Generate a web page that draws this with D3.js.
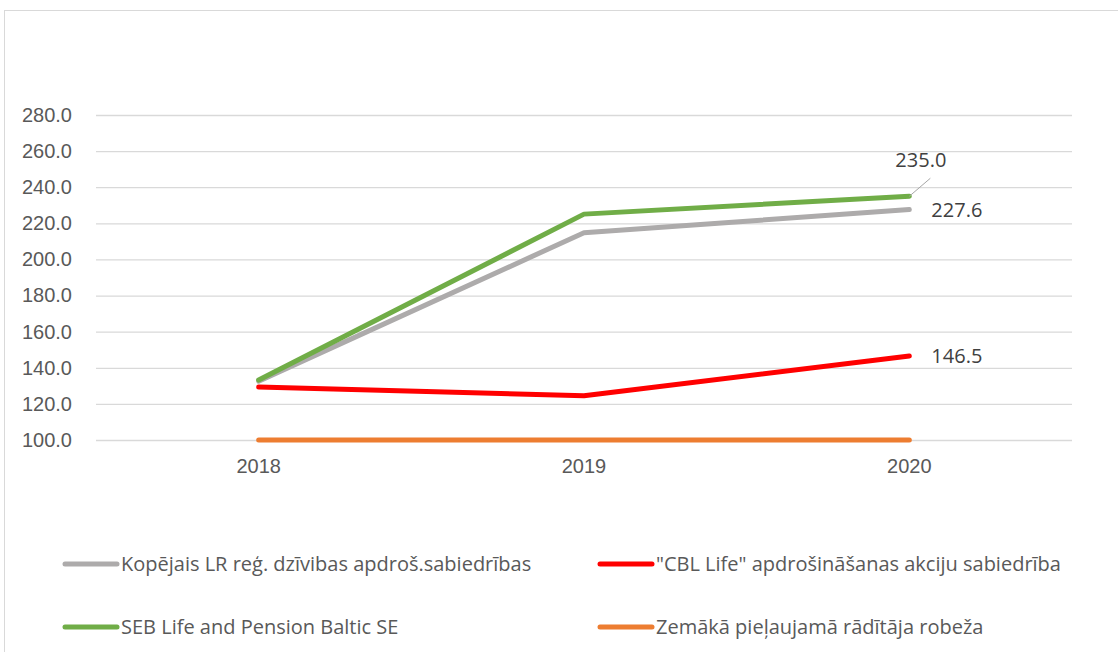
<!DOCTYPE html>
<html>
<head>
<meta charset="utf-8">
<script src="https://cdn.jsdelivr.net/npm/d3@7"></script>
<style>
  body { margin: 0; background: #fff; }
  svg { display: block; font-family: "Open Sans", Lato, sans-serif; }
</style>
</head>
<body>
<div id="chart"></div>
<script>
// Données
const years = ['2018', '2019', '2020']
const kopejais = [132.6, 214.8, 227.6]
const cblLife = [129.3, 124.5, 146.5]
const sebLife = [133.2, 225.1, 235.0]
const robeza = [100.0, 100.0, 100.0]
const yTicks = [100, 120, 140, 160, 180, 200, 220, 240, 260, 280]

const series = [
    { name: 'Kopējais LR reģ. dzīvibas apdroš.sabiedrības', values: kopejais, color: '#ADABAB' },
    { name: '"CBL Life" apdrošināšanas akciju sabiedrība', values: cblLife, color: '#FF0000' },
    { name: 'SEB Life and Pension Baltic SE', values: sebLife, color: '#70AD47' },
    { name: 'Zemākā pieļaujamā rādītāja robeža', values: robeza, color: '#ED7D31' }
]

const W = 1118, H = 652
const plot = { left: 96, right: 1072, top: 115, bottom: 440 }
const fontSize = '20px'

const svg = d3.select('#chart')
    .append('svg')
    .attr('width', W)
    .attr('height', H)

// cadre
svg.append('rect')
    .attr('x', 4.5).attr('y', 10.5)
    .attr('width', W + 10).attr('height', H + 10)
    .attr('fill', 'none')
    .attr('stroke', '#d9d9d9')

// Echelles
const x = d3.scaleBand()
    .domain(years)
    .range([plot.left, plot.right])

const y = d3.scaleLinear()
    .domain([100, 280])
    .range([plot.bottom, plot.top])

// grille + axe y
const yAxis = svg.append('g')
    .attr('transform', 'translate(' + plot.left + ',0)')
    .call(d3.axisLeft(y)
        .tickValues(yTicks)
        .tickFormat(d3.format('.1f'))
        .tickSize(-(plot.right - plot.left))
        .tickPadding(24))
yAxis.select('.domain').remove()
yAxis.selectAll('.tick line')
    .attr('stroke', '#d9d9d9')
    .attr('stroke-width', 1.3)
yAxis.selectAll('.tick text')
    .attr('fill', '#595959')
    .style('font-size', fontSize)

// axe x
const xAxis = svg.append('g')
    .attr('transform', 'translate(0,' + plot.bottom + ')')
    .call(d3.axisBottom(x).tickSize(0).tickPadding(19))
xAxis.select('.domain').remove()
xAxis.selectAll('.tick text')
    .attr('fill', '#595959')
    .style('font-size', fontSize)

// lignes
const line = d3.line()
    .x((d, i) => x(years[i]) + x.bandwidth() / 2)
    .y(d => y(d))

const drawOrder = [series[3], series[1], series[0], series[2]]
svg.append('g')
    .selectAll('path')
    .data(drawOrder)
    .enter()
    .append('path')
    .attr('d', d => line(d.values))
    .attr('fill', 'none')
    .attr('stroke', d => d.color)
    .attr('stroke-width', 5)
    .attr('stroke-linecap', 'round')
    .attr('stroke-linejoin', 'round')

// étiquettes des valeurs 2020
const last = years.length - 1
const lx = x(years[last]) + x.bandwidth() / 2

svg.append('line')
    .attr('x1', lx).attr('y1', y(sebLife[last]))
    .attr('x2', lx + 21).attr('y2', y(sebLife[last]) - 18)
    .attr('stroke', '#a6a6a6')
    .attr('stroke-width', 1)

const labels = [
    { v: sebLife[last], dx: -14, dy: -36 },
    { v: kopejais[last], dx: 22, dy: 0 },
    { v: cblLife[last], dx: 22, dy: 0 }
]
svg.append('g')
    .selectAll('text')
    .data(labels)
    .enter()
    .append('text')
    .attr('x', d => lx + d.dx)
    .attr('y', d => y(d.v) + d.dy)
    .attr('dy', '0.35em')
    .attr('fill', '#404040')
    .style('font-size', fontSize)
    .text(d => d3.format('.1f')(d.v))

// légende
const legendPos = [
    { x: 63, y: 564 },
    { x: 598, y: 564 },
    { x: 63, y: 627 },
    { x: 598, y: 627 }
]
const legend = svg.append('g')
    .selectAll('g')
    .data(series)
    .enter()
    .append('g')
    .attr('transform', (d, i) => 'translate(' + legendPos[i].x + ',' + legendPos[i].y + ')')

legend.append('line')
    .attr('x1', 2).attr('x2', 54)
    .attr('stroke', d => d.color)
    .attr('stroke-width', 5)
    .attr('stroke-linecap', 'round')

legend.append('text')
    .attr('x', 58)
    .attr('dy', '0.35em')
    .attr('fill', '#595959')
    .style('font-size', fontSize)
    .text(d => d.name)
</script>
</body>
</html>
